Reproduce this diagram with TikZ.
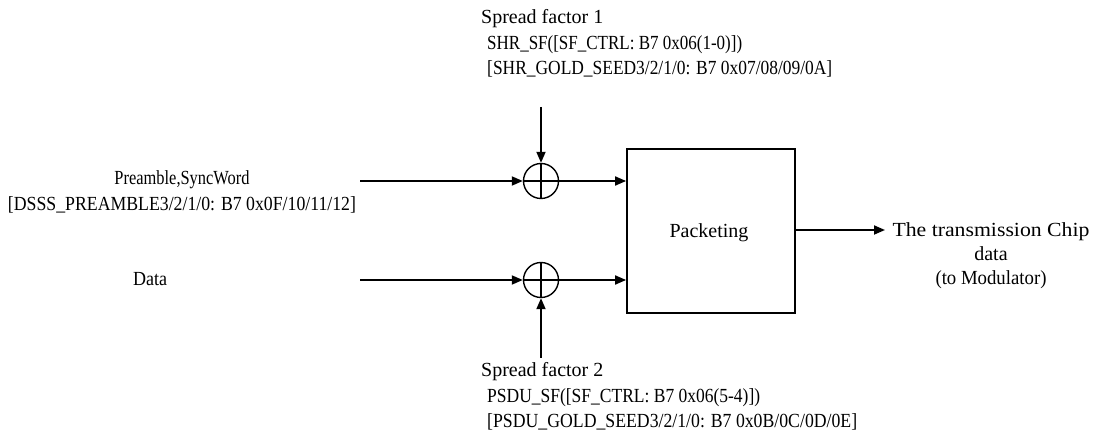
\documentclass[tikz,border=0pt]{standalone}
\usepackage{fontspec}
\usepackage{graphicx}
\setmainfont{Liberation Serif}
\usetikzlibrary{arrows.meta}
\newcommand\fitw[2]{\resizebox{#1}{\height}{#2}}
\begin{document}
\begin{tikzpicture}[x=1pt,y=-1pt,
  lbl/.style={inner sep=0pt,font=\fontsize{20}{25}\selectfont},
  conn/.style={line width=1.8pt,-{Triangle[length=11pt,width=9pt]}},
  xorn/.style={circle,draw,line width=1.4pt,minimum size=35pt,inner sep=0pt,
    path picture={\draw[line width=1.4pt] (path picture bounding box.north) -- (path picture bounding box.south)
      (path picture bounding box.west) -- (path picture bounding box.east);}},
  blk/.style={draw,line width=1.8pt,minimum width=168pt,minimum height=164pt,inner sep=0pt}]
\useasboundingbox (0,0) rectangle (1093,435);
% blocks
\node[blk] (pk) at (711,231) {};
\node[lbl,anchor=base] (pkt) at (709,238) {Packeting};
\node[xorn] (s1) at (541,181) {};
\node[xorn] (s2) at (541,280) {};
% free ends
\coordinate (i1) at (360,181);
\coordinate (i2) at (360,280);
\coordinate (t1) at (541,107);
\coordinate (b2) at (541,358);
\coordinate (o) at (885,230);
\coordinate (pkin1) at (pk.west |- s1);
\coordinate (pkin2) at (pk.west |- s2);
\coordinate (pkout) at (pk.east |- o);
% connectors
\draw[conn] (i1) -- (s1);
\draw[conn] (i2) -- (s2);
\draw[conn] (t1) -- (s1);
\draw[conn] (b2) -- (s2);
\draw[conn] (s1) -- (pkin1);
\draw[conn] (s2) -- (pkin2);
\draw[conn] (pkout) -- (o);
% labels
\node[lbl,anchor=base west] (sf1a) at (481,24) {Spread factor 1};
\node[lbl,anchor=base west] (sf1b) at (487,50) {\fitw{255pt}{SHR\_SF([SF\_CTRL: B7 0x06(1-0)])}};
\node[lbl,anchor=base west] (sf1c) at (487,75) {\fitw{345pt}{[SHR\_GOLD\_SEED3/2/1/0: B7 0x07/08/09/0A]}};
\node[lbl,anchor=base west] (sf2a) at (481,377) {Spread factor 2};
\node[lbl,anchor=base west] (sf2b) at (487,403) {\fitw{273pt}{PSDU\_SF([SF\_CTRL: B7 0x06(5-4)])}};
\node[lbl,anchor=base west] (sf2c) at (487,428) {\fitw{370pt}{[PSDU\_GOLD\_SEED3/2/1/0: B7 0x0B/0C/0D/0E]}};
\node[lbl,anchor=base] (pa) at (182,185) {\fitw{135pt}{Preamble,SyncWord}};
\node[lbl,anchor=base] (pb) at (182,211) {\fitw{348pt}{[DSSS\_PREAMBLE3/2/1/0: B7 0x0F/10/11/12]}};
\node[lbl,anchor=base] (da) at (150,286) {\fitw{34pt}{Data}};
\node[lbl,anchor=base] (ra) at (991,237) {\fitw{197pt}{The transmission Chip}};
\node[lbl,anchor=base] (rb) at (991,261) {data};
\node[lbl,anchor=base] (rc) at (991,285) {\fitw{111pt}{(to Modulator)}};
\end{tikzpicture}
\end{document}
